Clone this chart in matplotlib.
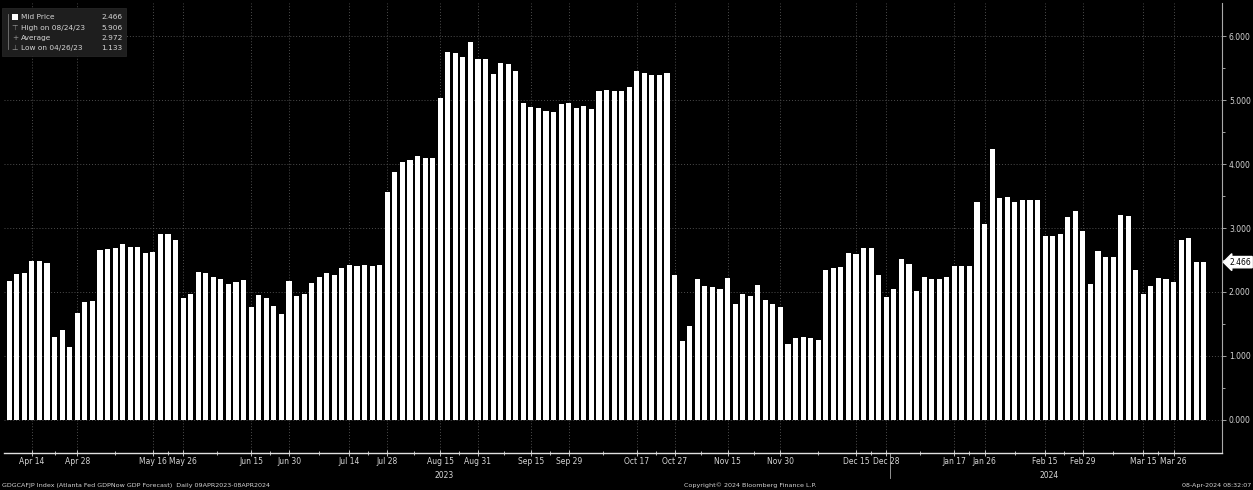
import numpy as np
import matplotlib.pyplot as plt
from matplotlib.patches import Rectangle

# GDPNow mid price, one bar per update
values = [2.17, 2.28, 2.29, 2.48, 2.48, 2.45, 1.29, 1.41, 1.133, 1.67,
          1.84, 1.86, 2.66, 2.67, 2.68, 2.75, 2.71, 2.71, 2.61, 2.62,
          2.90, 2.90, 2.81, 1.90, 1.96, 2.31, 2.29, 2.23, 2.20, 2.13,
          2.15, 2.18, 1.77, 1.95, 1.91, 1.78, 1.65, 2.17, 1.94, 1.97,
          2.14, 2.24, 2.30, 2.27, 2.37, 2.42, 2.40, 2.42, 2.41, 2.42,
          3.56, 3.87, 4.04, 4.06, 4.13, 4.10, 4.10, 5.04, 5.76, 5.74,
          5.67, 5.906, 5.64, 5.65, 5.41, 5.58, 5.57, 5.46, 4.95, 4.90,
          4.87, 4.83, 4.82, 4.94, 4.95, 4.87, 4.91, 4.86, 5.14, 5.16,
          5.14, 5.15, 5.20, 5.45, 5.42, 5.39, 5.39, 5.42, 2.26, 1.24,
          1.46, 2.20, 2.10, 2.07, 2.05, 2.21, 1.81, 1.97, 1.93, 2.11,
          1.87, 1.81, 1.77, 1.19, 1.28, 1.30, 1.28, 1.25, 2.34, 2.37,
          2.39, 2.61, 2.60, 2.69, 2.68, 2.27, 1.92, 2.04, 2.51, 2.43,
          2.02, 2.24, 2.20, 2.20, 2.24, 2.41, 2.40, 2.40, 3.41, 3.06,
          4.23, 3.47, 3.48, 3.41, 3.44, 3.44, 3.44, 2.875, 2.875, 2.91,
          3.17, 3.26, 2.96, 2.13, 2.64, 2.55, 2.54, 3.21, 3.18, 2.34,
          1.97, 2.09, 2.22, 2.20, 2.15, 2.82, 2.84, 2.47, 2.466]

tick_idx = [3, 9, 19, 23, 32, 37, 45, 50, 57, 62, 69, 74, 83, 88, 95, 102,
            112, 116, 125, 129, 137, 142, 150, 154]
tick_lab = ['Apr 14', 'Apr 28', 'May 16', 'May 26', 'Jun 15', 'Jun 30',
            'Jul 14', 'Jul 28', 'Aug 15', 'Aug 31', 'Sep 15', 'Sep 29',
            'Oct 17', 'Oct 27', 'Nov 15', 'Nov 30', 'Dec 15', 'Dec 28',
            'Jan 17', 'Jan 26', 'Feb 15', 'Feb 29', 'Mar 15', 'Mar 26']
years = ['2023', '2024']
year_idx = [57.5, 137.5]

legend_rows = [('Mid Price', '2.466'), ('High on 08/24/23', '5.906'),
               ('Average', '2.972'), ('Low on 04/26/23', '1.133')]
last_value = '2.466'

W, H = 1253, 490
txt = '#d6d6d6'
grid_c = '#4e4e4e'


def fx(x):
    return x / W


def fy(y):
    return 1 - y / H


fig = plt.figure(figsize=(W / 100, H / 100), dpi=100, facecolor='black')
ax = fig.add_axes([fx(4), 37 / H, 1218 / W, 450 / H], facecolor='black')

x = np.arange(len(values))
ax.bar(x, values, width=0.68, color='white', linewidth=0, zorder=3)

ax.set_xlim(-0.69, 160.4)
ax.set_ylim(-0.52, 6.52)

# right-hand axis
ax.yaxis.tick_right()
ax.set_yticks(range(7))
ax.set_yticklabels(['%.3f' % v for v in range(7)])
ax.set_yticks(np.arange(0.5, 6.5, 1.0), minor=True)
ax.tick_params(axis='y', which='both', colors='#bbbbbb', labelcolor=txt,
               labelsize=5.5, length=3, width=0.6, pad=2)
ax.tick_params(axis='y', which='minor', length=2)

ax.set_xticks(tick_idx)
ax.set_xticklabels(tick_lab)
mids = [(a + b) / 2 for a, b in zip(tick_idx[:-1], tick_idx[1:])]
ax.set_xticks(mids, minor=True)
ax.tick_params(axis='x', which='both', colors='#dddddd', labelcolor=txt,
               labelsize=5.5, direction='inout', length=4, width=0.6, pad=1)
ax.tick_params(axis='x', which='minor', length=3)

ax.grid(True, which='major', linestyle=(0, (1, 2)), color=grid_c,
        linewidth=0.7, zorder=1)

for s in ['top', 'left']:
    ax.spines[s].set_visible(False)
ax.spines['right'].set_color('#aaaaaa')
ax.spines['right'].set_linewidth(0.8)
ax.spines['bottom'].set_color('#e0e0e0')
ax.spines['bottom'].set_linewidth(1.0)

# year labels and year divider
for yl, yi in zip(years, year_idx):
    ax.text(yi, -0.04, yl, transform=ax.get_xaxis_transform(),
            ha='center', va='top', fontsize=5.5, color=txt)
ax.plot([116.5, 116.5], [0.0, -0.055], transform=ax.get_xaxis_transform(),
        color='#aaaaaa', lw=0.6, clip_on=False)

# legend box
fig.patches.append(Rectangle((fx(2), fy(56)), fx(124), 48 / H,
                             transform=fig.transFigure, facecolor='#1e1e1e',
                             edgecolor='#2a2a2a', lw=0.5, zorder=5))
fig.lines.append(plt.Line2D([fx(8), fx(8)], [fy(14), fy(49)],
                            transform=fig.transFigure, color='#777777',
                            lw=0.6, zorder=6))
row_y = [17, 28, 38, 48]
icons = ['', '\u22a4', '+', '\u22a5']
for (lab, val), ry, ic in zip(legend_rows, row_y, icons):
    fig.text(fx(21), fy(ry), lab, fontsize=5.3, color=txt, va='center',
             ha='left', zorder=7)
    fig.text(fx(101), fy(ry), val, fontsize=5.3, color=txt, va='center',
             ha='left', zorder=7)
    if ic:
        fig.text(fx(15), fy(ry), ic, fontsize=5.3, color='#999999',
                 va='center', ha='center', zorder=7)
fig.patches.append(Rectangle((fx(12), fy(20)), 6 / W, 6 / H,
                             transform=fig.transFigure, facecolor='white',
                             zorder=7))

# last value marker on the right axis
ax.text(1.006, values[-1], last_value, transform=ax.get_yaxis_transform(),
        fontsize=5.5, color='black', va='center', ha='left',
        bbox=dict(boxstyle='larrow,pad=0.15', facecolor='white',
                  edgecolor='white'), zorder=8, clip_on=False)

# footer
fig.text(fx(2), fy(485), 'GDGCAFJP Index (Atlanta Fed GDPNow GDP Forecast)  '
         'Daily 09APR2023-08APR2024', fontsize=4.6, color=txt, va='center')
fig.text(fx(750), fy(485), 'Copyright\u00a9 2024 Bloomberg Finance L.P.',
         fontsize=4.6, color=txt, va='center', ha='center')
fig.text(fx(1251), fy(485), '08-Apr-2024 08:32:07', fontsize=4.6, color=txt,
         va='center', ha='right')

fig.savefig('out.png', dpi=100, facecolor='black')
